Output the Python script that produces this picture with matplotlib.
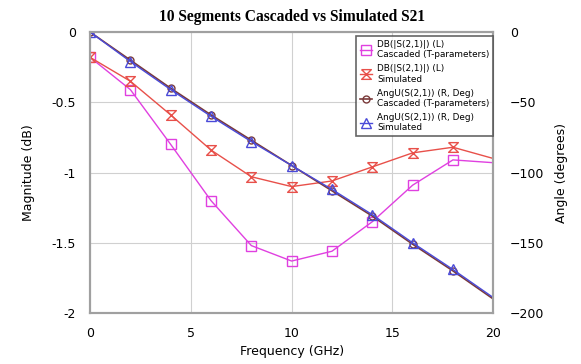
import numpy as np
import matplotlib.pyplot as plt
from matplotlib.path import Path

# frequency points (GHz)
freq = [0, 2, 4, 6, 8, 10, 12, 14, 16, 18, 20]
# magnitude (dB)
db_casc = [-0.18, -0.41, -0.80, -1.20, -1.52, -1.63, -1.56, -1.35, -1.09, -0.91, -0.93]
db_sim = [-0.18, -0.35, -0.59, -0.84, -1.03, -1.10, -1.06, -0.96, -0.86, -0.82, -0.90]
# angle (degrees)
ang_casc = [0, -20, -40, -59, -77, -95, -113, -131, -151, -170, -190]
ang_sim = [0, -21, -41, -60, -78, -95, -112, -130, -150, -169, -189]

hourglass = Path([(-1, 1), (1, 1), (-1, -1), (1, -1), (-1, 1)])

fig = plt.figure(figsize=(5.81, 3.64), dpi=100)
ax = fig.add_axes([0.155, 0.14, 0.694, 0.772])
ax2 = ax.twinx()

mk = dict(markevery=range(10), markerfacecolor='none', markersize=7, linewidth=1)
l1, = ax.plot(freq, db_casc, color='#e040e0', marker='s', **mk,
              label='DB(|S(2,1)|) (L)\nCascaded (T-parameters)')
l2, = ax.plot(freq, db_sim, color='#e8504a', marker=hourglass, **mk,
              label='DB(|S(2,1)|) (L)\nSimulated')
l3, = ax2.plot(freq, ang_casc, color='#7a3a3a', marker='o', markevery=range(10),
               markerfacecolor='none', markersize=5, linewidth=1.2,
               label='AngU(S(2,1)) (R, Deg)\nCascaded (T-parameters)')
l4, = ax2.plot(freq, ang_sim, color='#4a4ad8', marker='^', **mk,
               label='AngU(S(2,1)) (R, Deg)\nSimulated')

ax.set_xlim(0, 20)
ax.set_ylim(-2, 0)
ax2.set_ylim(-200, 0)
ax.set_xticks([0, 5, 10, 15, 20])
ax.set_yticks([-2, -1.5, -1, -0.5, 0])
ax.set_yticklabels(['-2', '-1.5', '-1', '-0.5', '0'])
ax2.set_yticks([-200, -150, -100, -50, 0])
ax.grid(color='#d0d0d0', linewidth=0.8)
ax.tick_params(length=0, labelsize=9, pad=10)
ax2.tick_params(length=0, labelsize=9, pad=12)

for a in (ax, ax2):
    for s in a.spines.values():
        s.set_color('#a0a0a0')
        s.set_linewidth(1.5)

ax.set_xlabel('Frequency (GHz)', fontsize=9, labelpad=4)
ax.set_ylabel('Magnitude (dB)', fontsize=9, labelpad=12)
ax2.set_ylabel('Angle (degrees)', fontsize=9, labelpad=8)
ax.set_title('10 Segments Cascaded vs Simulated S21', fontsize=11.2,
             fontweight='bold', family='Liberation Serif', pad=8)

leg = ax2.legend(handles=[l1, l2, l3, l4], loc='upper right',
                 bbox_to_anchor=(1.01, 1.0), fontsize=6.4, frameon=True,
                 fancybox=False, edgecolor='#404040', handlelength=1.4,
                 labelspacing=0.55, borderpad=0.4, handletextpad=0.5)
leg.get_frame().set_linewidth(1.2)

fig.savefig('out.png', dpi=100)
